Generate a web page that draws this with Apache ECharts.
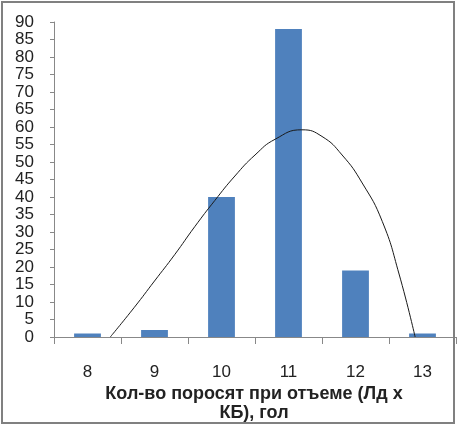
<!DOCTYPE html>
<html>
<head>
<meta charset="utf-8">
<script src="https://cdn.jsdelivr.net/npm/echarts@6/dist/echarts.min.js"></script>
<style>
html,body{margin:0;padding:0;background:#fff;}
#chart{width:457px;height:425px;}
</style>
</head>
<body>
<div id="chart"></div>
<script>
var categories = ['8', '9', '10', '11', '12', '13'];
var barValues = [1, 2, 40, 88, 19, 1];
var curveX = [8.34, 8.7, 9.0, 9.3, 9.6, 9.9, 10.2, 10.5, 10.8, 11.2, 11.5, 11.8, 12.1, 12.4, 12.65, 12.89];
var curveY = [0, 8.5, 16, 23.5, 31.5, 39, 46, 52, 56.5, 59.2, 57.3, 52, 44, 33, 18, 0];
var yTicks = [0, 5, 10, 15, 20, 25, 30, 35, 40, 45, 50, 55, 60, 65, 70, 75, 80, 85, 90];
var xTitle = 'Кол-во поросят при отъеме (Лд х\nКБ), гол';

var curveData = curveX.map(function (x, i) { return [x, curveY[i]]; });

var chart = echarts.init(document.getElementById('chart'), null, {renderer: 'canvas'});
var labelFont = {color: '#222', fontSize: 17, fontFamily: 'Liberation Sans'};
chart.setOption({
  animation: false,
  backgroundColor: '#fff',
  grid: {left: 54, right: 1, top: 22, bottom: 88, containLabel: false},
  title: {
    text: xTitle,
    left: 249, top: 380, textAlign: 'center',
    textStyle: {fontSize: 18, fontWeight: 'bold', fontFamily: 'Liberation Sans', color: '#222', lineHeight: 19}
  },
  graphic: [{
    type: 'rect', shape: {x: 2, y: 2, width: 452, height: 421},
    style: {fill: 'none', stroke: '#808080', lineWidth: 2}, z: 100
  }],
  xAxis: [{
    type: 'category', data: categories, boundaryGap: true,
    axisLine: {lineStyle: {color: '#888', width: 1}},
    axisTick: {show: true, length: 7, lineStyle: {color: '#888'}},
    axisLabel: Object.assign({margin: 27}, labelFont)
  }, {
    type: 'value', min: 7.5, max: 13.5, show: false
  }],
  yAxis: {
    type: 'value', min: 0, max: 90, interval: 5,
    axisLine: {show: true, lineStyle: {color: '#888'}},
    axisTick: {show: true, length: 4, lineStyle: {color: '#888'}},
    splitLine: {show: false},
    axisLabel: Object.assign({margin: 20, formatter: function (v) { return yTicks.indexOf(v) >= 0 ? String(v) : ''; }}, labelFont)
  },
  series: [{
    type: 'bar', data: barValues, xAxisIndex: 0,
    barWidth: '40%', itemStyle: {color: '#4F81BD'}
  }, {
    type: 'line', data: curveData, xAxisIndex: 1,
    smooth: 0.5, showSymbol: false, symbol: 'none',
    lineStyle: {color: '#1a1a1a', width: 1}, z: 5
  }]
});
</script>
</body>
</html>
